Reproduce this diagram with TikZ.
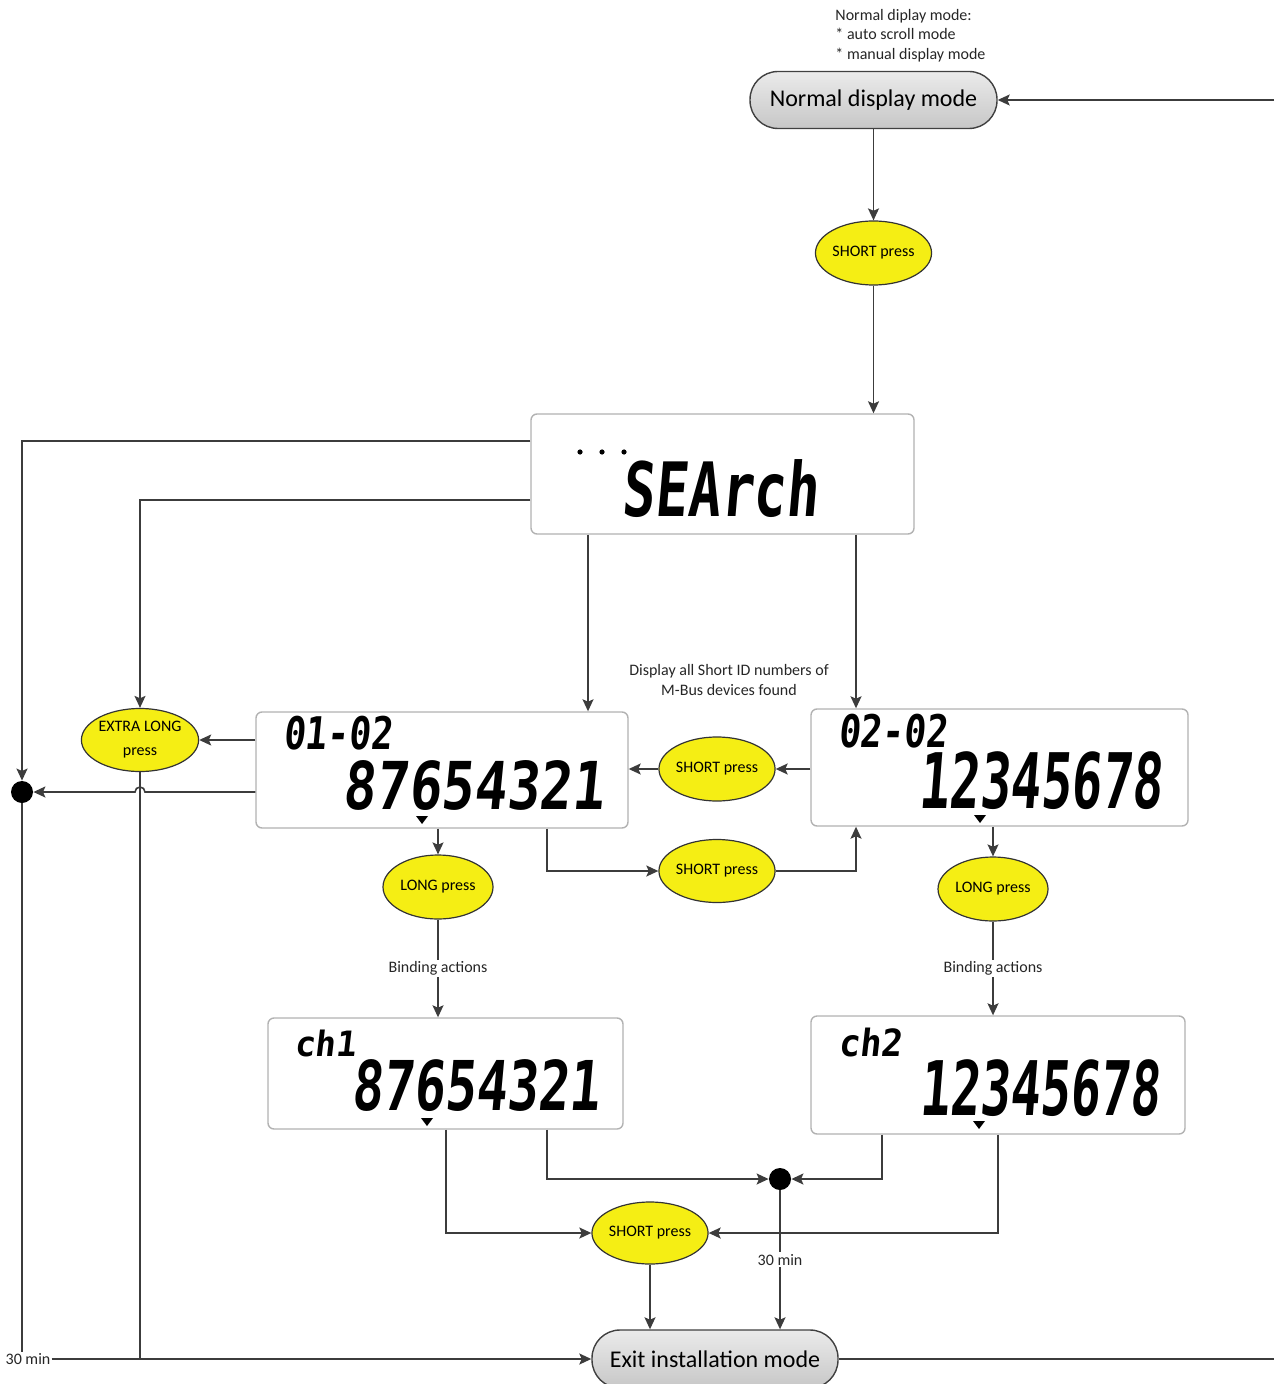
\documentclass[tikz,border=0pt]{standalone}
\usepackage{fontspec}
\setmainfont{Carlito}
\newfontfamily\lcdfont[FakeSlant=0.12]{DejaVu Sans Mono}
\usetikzlibrary{arrows.meta,calc,shapes.geometric}
\definecolor{lineclr}{RGB}{60,60,60}
\definecolor{btnyellow}{RGB}{245,238,20}
\newcommand\lcdtxt[3]{\resizebox*{#1pt}{#2pt}{\lcdfont\bfseries #3}}
\tikzset{
  lcdbox/.style={draw=black!30, line width=0.7pt, rounded corners=3pt, fill=white, inner sep=0pt},
  lcdtext/.style={inner sep=0pt},
  btn/.style={ellipse, draw=black!80, fill=btnyellow, line width=0.6pt, inner sep=0pt,
    font=\fontsize{8}{12}\selectfont, align=center},
  pill/.style={rectangle, rounded corners=14pt, draw=black!75, line width=0.7pt,
    top color=black!8, bottom color=black!22, inner sep=0pt, font=\fontsize{12}{14}\selectfont},
  flow/.style={draw=lineclr, line width=0.8pt, -{Stealth[length=6pt,width=5.5pt,inset=1.2pt]}},
  wire/.style={draw=lineclr, line width=0.8pt},
  lbl/.style={font=\fontsize{8}{10}\selectfont, inner sep=1pt, text=black!85},
  junction/.style={circle, fill=black, inner sep=0pt, minimum size=11pt},
  marker/.style={fill=black},
}
\begin{document}
\begin{tikzpicture}[x=0.5pt,y=-0.5pt]
\useasboundingbox (0,0) rectangle (1274,1384);

% note
\node[lbl, anchor=north west, align=left, font=\fontsize{8}{9.75}\selectfont] (note) at (833,7)
  {Normal diplay mode:\\* auto scroll mode\\* manual display mode};

% pills
\node[pill, minimum width=123.5pt, minimum height=28.5pt] (normal) at (873.5,100) {Normal display mode};
\node[pill, minimum width=123pt, minimum height=29pt] (exit) at (715,1359) {Exit installation mode};

% buttons
\node[btn, minimum width=55pt, minimum height=32pt] (sp1) at (873.5,253) {SHORT press};
\node[btn, minimum width=56pt, minimum height=31.5pt] (xl) at (140,740) {EXTRA LONG\\press};
\node[btn, minimum width=54.5pt, minimum height=32pt] (sp2) at (717,769) {SHORT press};
\node[btn, minimum width=55.5pt, minimum height=31.5pt] (sp3) at (717,871) {SHORT press};
\node[btn, minimum width=55pt, minimum height=32pt] (lp1) at (438,887) {LONG press};
\node[btn, minimum width=55pt, minimum height=32pt] (lp2) at (993,889) {LONG press};
\node[btn, minimum width=56pt, minimum height=31pt] (sp4) at (650,1233) {SHORT press};

% junctions
\node[junction] (junL) at (22,792) {};
\node[junction] (junB) at (780,1179) {};

% LCD boxes
\node[lcdbox, minimum width=191.5pt, minimum height=60pt] (search) at (722.5,474) {};
\node[lcdbox, minimum width=186pt, minimum height=58pt] (box1) at (442,770) {};
\node[lcdbox, minimum width=188.5pt, minimum height=58.5pt] (box2) at (999.5,767.5) {};
\node[lcdbox, minimum width=177.5pt, minimum height=55.5pt] (ch1) at (445.5,1073.5) {};
\node[lcdbox, minimum width=187pt, minimum height=59pt] (ch2) at (998,1075) {};

% LCD texts
\node[lcdtext] (tsearch) at (720,489) {\lcdtxt{98}{29}{SEArch}};
\fill (580,452) circle[radius=1.3pt] (602,452) circle[radius=1.3pt] (624,452) circle[radius=1.3pt];
\node[lcdtext] (t1a) at (337.5,733) {\lcdtxt{54.5}{17}{01-02}};
\node[lcdtext] (t1b) at (473.5,785) {\lcdtxt{130.5}{25}{87654321}};
\node[lcdtext] (t2a) at (892.5,731) {\lcdtxt{54.5}{17}{02-02}};
\node[lcdtext] (t2b) at (1040,781) {\lcdtxt{122}{29}{12345678}};
\node[lcdtext] (t3a) at (325,1043.5) {\lcdtxt{31}{13.5}{ch1}};
\node[lcdtext] (t3b) at (475.5,1086) {\lcdtxt{124.5}{26}{87654321}};
\node[lcdtext] (t4a) at (870,1042.5) {\lcdtxt{32}{14.5}{ch2}};
\node[lcdtext] (t4b) at (1039.5,1088.5) {\lcdtxt{120.5}{28.5}{12345678}};

% cursor markers
\fill[marker] (416,816) -- (428,816) -- (422,824) -- cycle;
\fill[marker] (974,815) -- (986,815) -- (980,823) -- cycle;
\fill[marker] (421,1118) -- (433,1118) -- (427,1126) -- cycle;
\fill[marker] (973,1121) -- (985,1121) -- (979,1129) -- cycle;

% labels
\node[lbl, align=center, font=\fontsize{8}{10}\selectfont] (disp) at (729,680)
  {Display all Short ID numbers of\\M-Bus devices found};
\node[lbl, fill=white, inner sep=0.5pt] (min30) at (28,1359) {30 min};

\coordinate (rN) at (1274,100);
\coordinate (rE) at (1274,1359);

% connectors
\draw[flow] (rN) -- (normal);
\draw[wire] (exit) -- (rE);
\draw[flow] (normal.south -| sp1) -- (sp1);
\draw[flow] (sp1) -- (search.north -| sp1);

\draw[flow] (search.west |- 0,441) -| (junL);
\draw[flow] (search.west |- 0,500) -| (xl);
\draw[flow] (search.south -| 588,0) -- (box1.north -| 588,0);
\draw[flow] (search.south -| 856,0) -- (box2.north -| 856,0);

\draw[flow] (box1.west |- xl) -- (xl);
\draw[flow] (box1.west |- junL) -- (145,792) arc[start angle=0, end angle=180, radius=2.5pt] -- (junL);

\draw[flow] (box2.west |- sp2) -- (sp2);
\draw[flow] (sp2) -- (box1.east |- sp2);
\draw[flow] (box1.south -| 547,0) |- (sp3);
\draw[flow] (sp3) -| (box2.south -| 856,0);

\draw[flow] (box1.south -| lp1) -- (lp1);
\draw[flow] (box2.south -| lp2) -- (lp2);
\draw[flow] (lp1) -- node[lbl, fill=white] (bind1) {Binding actions} (ch1.north -| lp1);
\draw[flow] (lp2) -- node[lbl, fill=white] (bind2) {Binding actions} (ch2.north -| lp2);

\draw[flow] (ch1.south -| 547,0) |- (junB);
\draw[flow] (ch2.south -| 882,0) |- (junB);
\draw[flow] (ch1.south -| 446,0) |- (sp4);
\draw[flow] (ch2.south -| 998,0) |- (sp4);
\draw[flow] (sp4) -- (exit.north -| sp4);
\draw[flow] (junB) -- node[lbl, fill=white] (min30b) {30 min} (exit.north -| junB);

\draw[flow] (xl) |- (exit);
\draw[wire] (junL) -- (junL |- min30.north);
\draw[wire] (min30.east) -- (min30.east -| xl);
\end{tikzpicture}
\end{document}
